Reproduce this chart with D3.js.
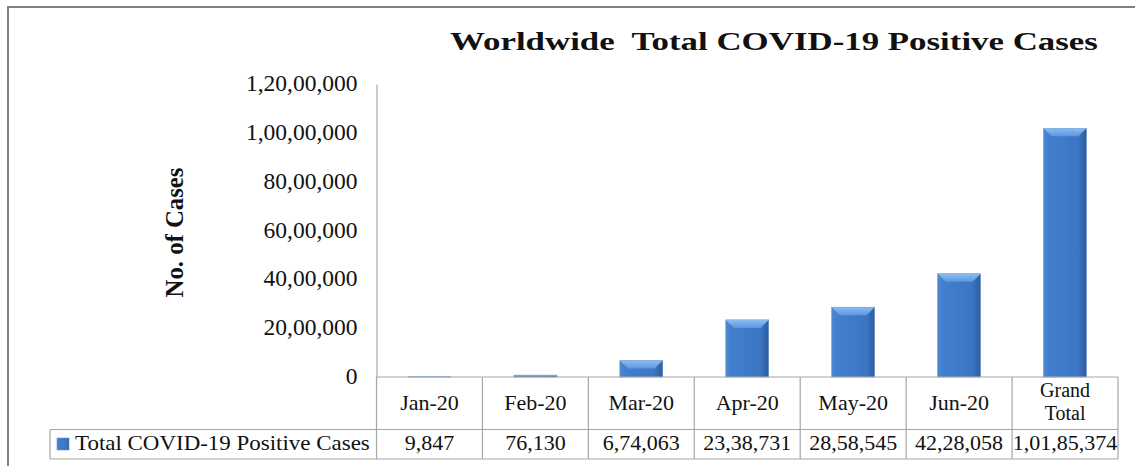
<!DOCTYPE html>
<html>
<head>
<meta charset="utf-8">
<script src="https://cdn.jsdelivr.net/npm/d3@7"></script>
<style>
  body { margin: 0; background: #fff; }
  svg text { font-family: "Liberation Serif", "Times New Roman", serif; fill: #111; }
</style>
</head>
<body>
<div id="wrapper"></div>
<script>
// data
const months = ['Jan-20', 'Feb-20', 'Mar-20', 'Apr-20', 'May-20', 'Jun-20', 'Grand Total'];
const cases = [9847, 76130, 674063, 2338731, 2858545, 4228058, 10185374];
const yTicks = [0, 2000000, 4000000, 6000000, 8000000, 10000000, 12000000];
const seriesName = 'Total COVID-19 Positive Cases';

// indian style grouping 1,01,85,374
function fmtIN(n) {
  let s = String(Math.round(n));
  if (s.length <= 3) return s;
  let last3 = s.slice(-3), rest = s.slice(0, -3);
  rest = rest.replace(/\B(?=(\d{2})+(?!\d))/g, ',');
  return rest + ',' + last3;
}

const dims = { width: 1135, height: 466 };
const plot = { left: 376.5, right: 1118, top: 84, bottom: 377 };
const row1 = 429.5, row2 = 459;
const legendLeft = 50;

const svg = d3.select('#wrapper').append('svg')
  .attr('width', dims.width)
  .attr('height', dims.height);

// stretch a text horizontally to a given width (the picture is squeezed)
function stretchTo(sel, cx, cy, w, rot) {
  const nat = sel.node().getComputedTextLength();
  const k = w / nat;
  sel.attr('transform', rot
    ? `translate(${cx},${cy}) rotate(-90) scale(${k},1)`
    : `translate(${cx},${cy}) scale(${k},1)`);
}

// gradients for the bevelled bars
const defs = svg.append('defs');
const g1 = defs.append('linearGradient').attr('id', 'barGrad')
  .attr('x1', 0).attr('x2', 1).attr('y1', 0).attr('y2', 0);
g1.append('stop').attr('offset', '0%').attr('stop-color', '#4f88d2');
g1.append('stop').attr('offset', '12%').attr('stop-color', '#417fce');
g1.append('stop').attr('offset', '80%').attr('stop-color', '#3b76c4');
g1.append('stop').attr('offset', '100%').attr('stop-color', '#2c5c9e');
const g2 = defs.append('linearGradient').attr('id', 'topGrad')
  .attr('x1', 0).attr('x2', 0).attr('y1', 0).attr('y2', 1);
g2.append('stop').attr('offset', '0%').attr('stop-color', '#8cbcf2');
g2.append('stop').attr('offset', '100%').attr('stop-color', '#5b97e0');

// outer frame (top + left edge)
svg.append('line').attr('x1', 8).attr('x2', dims.width).attr('y1', 7).attr('y2', 7)
  .attr('stroke', '#808080').attr('stroke-width', 2);
svg.append('line').attr('x1', 8).attr('x2', 8).attr('y1', 6).attr('y2', dims.height)
  .attr('stroke', '#808080').attr('stroke-width', 2);

// scales
const xScale = d3.scaleBand()
  .domain(months)
  .range([plot.left, plot.right])
  .paddingInner(0)
  .paddingOuter(0);

const yScale = d3.scaleLinear()
  .domain([0, 12000000])
  .range([plot.bottom, plot.top]);

const barW = xScale.bandwidth() * 0.405;

// y axis
const yAxisGen = d3.axisLeft(yScale)
  .tickValues(yTicks)
  .tickSize(0)
  .tickPadding(19)
  .tickFormat(fmtIN);

const yAxis = svg.append('g')
  .attr('transform', `translate(${plot.left},0)`)
  .call(yAxisGen);
yAxis.select('.domain').attr('stroke', '#a6a6a6').attr('stroke-width', 1.2);
yAxis.selectAll('text').style('font-size', '23.5px').attr('fill', '#111')
  .attr('font-family', '"Liberation Serif", serif')
  .attr('dy', '0.28em');

// axis title
const yTitle = svg.append('text')
  .attr('text-anchor', 'middle')
  .style('font-size', '25px')
  .style('font-weight', 'bold')
  .text('No. of Cases');
stretchTo(yTitle, 183, (plot.top + plot.bottom) / 2 + 2, 130, true);

// chart title, stretched wide like the source image
const title = svg.append('text')
  .attr('text-anchor', 'middle')
  .style('font-size', '25px')
  .style('font-weight', 'bold')
  .style('white-space', 'pre')
  .text('Worldwide  Total COVID-19 Positive Cases');
stretchTo(title, 774, 50, 648, false);

// bars
const bars = svg.append('g').selectAll('g')
  .data(months.map((m, i) => ({ m, v: cases[i] })))
  .join('g');

bars.append('rect')
  .attr('x', d => xScale(d.m) + (xScale.bandwidth() - barW) / 2)
  .attr('y', d => yScale(d.v))
  .attr('width', barW)
  .attr('height', d => plot.bottom - yScale(d.v))
  .attr('fill', 'url(#barGrad)')
  .attr('stroke', '#6d8fbf')
  .attr('stroke-width', 0.6);

// top bevel
bars.append('path')
  .attr('d', d => {
    const x0 = xScale(d.m) + (xScale.bandwidth() - barW) / 2;
    const y0 = yScale(d.v);
    const h = Math.min(8, (plot.bottom - y0) / 2);
    return `M${x0},${y0} L${x0 + barW},${y0} L${x0 + barW - h},${y0 + h} L${x0 + h},${y0 + h} Z`;
  })
  .attr('fill', 'url(#topGrad)');

// data table
const lineCol = '#a6a6a6';
const table = svg.append('g').attr('stroke', lineCol).attr('stroke-width', 1.2);
// horizontal lines
table.append('line').attr('x1', plot.left).attr('x2', plot.right).attr('y1', plot.bottom).attr('y2', plot.bottom);
table.append('line').attr('x1', legendLeft).attr('x2', plot.right).attr('y1', row1).attr('y2', row1);
table.append('line').attr('x1', legendLeft).attr('x2', plot.right).attr('y1', row2).attr('y2', row2);
// verticals
table.append('line').attr('x1', legendLeft).attr('x2', legendLeft).attr('y1', row1).attr('y2', row2);
table.selectAll('.vl')
  .data(months.concat(['__end']))
  .join('line')
  .attr('class', 'vl')
  .attr('x1', (d, i) => i < months.length ? xScale(d) : plot.right)
  .attr('x2', (d, i) => i < months.length ? xScale(d) : plot.right)
  .attr('y1', plot.bottom)
  .attr('y2', row2);

// header labels
svg.append('g').selectAll('text')
  .data(months)
  .join('text')
  .attr('x', d => xScale(d) + xScale.bandwidth() / 2)
  .attr('text-anchor', 'middle')
  .style('font-size', d => d === 'Grand Total' ? '20px' : '22px')
  .each(function (d) {
    const t = d3.select(this);
    const parts = d === 'Grand Total' ? ['Grand', 'Total'] : [d];
    const startY = parts.length === 1 ? 410 : 397;
    parts.forEach((p, k) => {
      t.append('tspan')
        .attr('x', xScale(d) + xScale.bandwidth() / 2)
        .attr('y', startY + k * 23)
        .text(p);
    });
  });

// value row
svg.append('g').selectAll('text')
  .data(cases)
  .join('text')
  .attr('x', (d, i) => xScale(months[i]) + xScale.bandwidth() / 2)
  .attr('y', 450)
  .attr('text-anchor', 'middle')
  .style('font-size', '22px')
  .text(d => fmtIN(d));

// legend key + name
svg.append('rect')
  .attr('x', 57).attr('y', 438).attr('width', 12).attr('height', 12)
  .attr('fill', 'url(#barGrad)')
  .attr('stroke', '#6d8fbf').attr('stroke-width', 0.6);
const legText = svg.append('text')
  .style('font-size', '22px')
  .text(seriesName);
stretchTo(legText, 75, 450, 295, false);
</script>
</body>
</html>
